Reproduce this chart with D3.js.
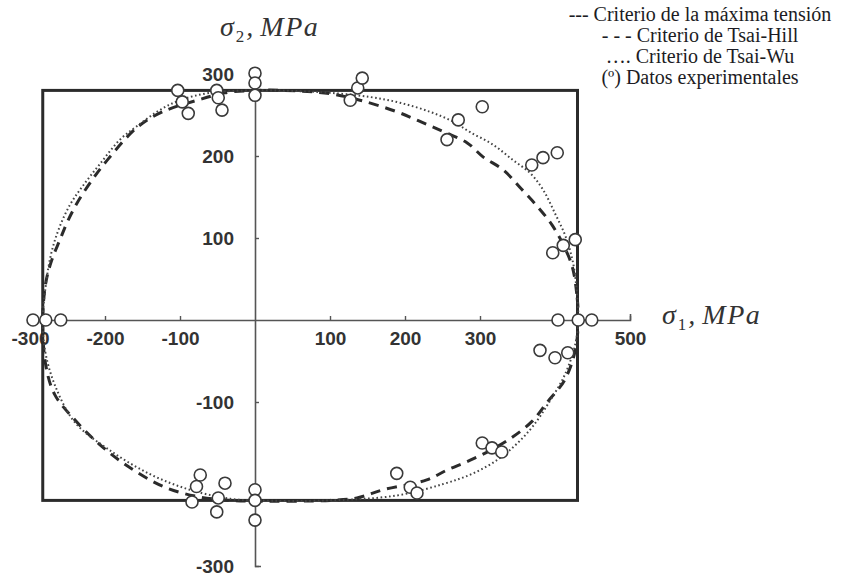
<!DOCTYPE html>
<html>
<head>
<meta charset="utf-8">
<script src="https://cdn.jsdelivr.net/npm/d3@7"></script>
<style>
  body { margin: 0; background: #fff; }
  svg { display: block; }
</style>
</head>
<body>
<svg id="chart" width="842" height="580"></svg>
<script>
// Biaxial failure envelopes of a lamina (σ1, σ2 in MPa) with test results.

// Axis ticks
const xTickValues = [-300, -200, -100, 100, 200, 300, 500];
const yTickValues = [300, 200, 100, -100, -300];

// Maximum stress criterion: rectangle limits
const maxStressSigma1 = [-283, 430];
const maxStressSigma2 = [-220, 280];

// Tsai-Hill envelope, [σ1, σ2]
const tsaiHill = [
  [431, 0], [429, 32], [423, 65], [412, 90], [396, 116], [377, 138], [355, 160],
  [331, 183], [304, 199], [283, 216], [253, 229], [223, 241], [189, 254], [140, 268],
  [100, 276], [40, 280], [0, 280], [-40, 277], [-77, 268], [-123, 254], [-157, 235],
  [-197, 195], [-217, 171], [-237, 143], [-250, 120], [-260, 98], [-271, 73],
  [-279, 45], [-283, 0], [-279, -55], [-267, -91], [-240, -122], [-207, -152],
  [-167, -180], [-120, -204], [-73, -216], [-33, -220], [0, -221], [100, -220],
  [136, -217], [171, -207], [229, -195], [256, -183], [287, -171], [318, -157],
  [343, -143], [369, -124], [389, -101], [413, -73], [427, -37]
];

// Tsai-Wu envelope, [σ1, σ2]
const tsaiWu = [
  [431, 0], [429, 35], [424, 70], [414, 102], [400, 130], [384, 159], [367, 179],
  [344, 195], [317, 214], [287, 229], [264, 242], [233, 254], [193, 265], [153, 272],
  [100, 277], [60, 279], [0, 280], [-60, 277], [-100, 268], [-127, 256], [-155, 238],
  [-180, 220], [-207, 190], [-230, 163], [-247, 140], [-262, 110], [-272, 80],
  [-279, 42], [-283, 0], [-280, -37], [-267, -79], [-240, -125], [-195, -158],
  [-140, -188], [-87, -207], [-33, -218], [0, -220], [100, -220], [189, -214],
  [251, -200], [291, -187], [324, -170], [349, -151], [371, -129], [393, -99],
  [413, -67], [427, -30]
];

// Experimental failure points
const expSigma1 = [
  -103, -97, -89, -51, -49, -44, 0, 0, 0, 127, 137, 143,
  303, 271, 256, 369, 384, 403, 427, 411, 397,
  404, 431, 449, 380, 400, 417, 303, 316, 329,
  189, 207, 216, -73, -78, -84, -49, -40, -51, 0, 0, 0,
  -296, -279, -259
];
const expSigma2 = [
  280, 266, 252, 280, 271, 256, 301, 289, 274, 268, 283, 295,
  260, 244, 220, 189, 198, 204, 98, 91, 82,
  0, 0, 0, -37, -46, -40, -150, -156, -161,
  -187, -204, -211, -189, -203, -222, -217, -199, -234, -207, -220, -244,
  0, 0, 0
];

const legendLines = [
  "--- Criterio de la máxima tensión",
  "- - - Criterio de Tsai-Hill",
  "…. Criterio de Tsai-Wu",
  "(º) Datos experimentales"
];

const svg = d3.select("#chart");

const x = d3.scaleLinear().domain([-300, 500]).range([30, 630]);
const y = d3.scaleLinear().domain([-300, 300]).range([566, 74]);

const axisColor = "#555";
const inkColor = "#2b2b2b";
const labelFont = "'Liberation Sans', Arial, sans-serif";
const serifFont = "'Liberation Serif', 'Times New Roman', serif";

// Axes crossing at the origin
const xAxis = d3.axisBottom(x)
  .tickValues(xTickValues)
  .tickSizeInner(-4)
  .tickSizeOuter(-6)
  .tickPadding(12)
  .tickFormat(d => String(d));

const yAxis = d3.axisLeft(y)
  .tickValues(yTickValues)
  .tickSizeInner(-4)
  .tickSizeOuter(-6)
  .tickPadding(21)
  .tickFormat(d => String(d));

function styleAxis(g) {
  g.select(".domain").attr("stroke", axisColor).attr("stroke-width", 1.6);
  g.selectAll(".tick line").attr("stroke", axisColor).attr("stroke-width", 1.4);
  g.selectAll(".tick text")
    .attr("fill", "#333")
    .style("font-family", labelFont)
    .style("font-weight", "bold")
    .style("font-size", "19px");
}

svg.append("g")
  .attr("transform", `translate(0,${y(0)})`)
  .call(xAxis)
  .call(styleAxis);

svg.append("g")
  .attr("transform", `translate(${x(0)},0)`)
  .call(yAxis)
  .call(styleAxis);

// Maximum stress rectangle
svg.append("rect")
  .attr("x", x(maxStressSigma1[0]))
  .attr("y", y(maxStressSigma2[1]))
  .attr("width", x(maxStressSigma1[1]) - x(maxStressSigma1[0]))
  .attr("height", y(maxStressSigma2[0]) - y(maxStressSigma2[1]))
  .attr("fill", "none")
  .attr("stroke", inkColor)
  .attr("stroke-width", 3);

const envelope = d3.line()
  .x(d => x(d[0]))
  .y(d => y(d[1]))
  .curve(d3.curveCatmullRomClosed.alpha(0.5));

// Tsai-Hill (dashed)
svg.append("path")
  .attr("d", envelope(tsaiHill))
  .attr("fill", "none")
  .attr("stroke", inkColor)
  .attr("stroke-width", 3)
  .attr("stroke-dasharray", "10,7");

// Tsai-Wu (dotted)
svg.append("path")
  .attr("d", envelope(tsaiWu))
  .attr("fill", "none")
  .attr("stroke", "#444")
  .attr("stroke-width", 2)
  .attr("stroke-dasharray", "1.6,2.6");

// Experimental points
svg.append("g")
  .selectAll("circle")
  .data(expSigma1.map((s1, i) => [s1, expSigma2[i]]))
  .join("circle")
  .attr("cx", d => x(d[0]))
  .attr("cy", d => y(d[1]))
  .attr("r", 6)
  .attr("fill", "#fff")
  .attr("stroke", "#3a3a3a")
  .attr("stroke-width", 1.6);

// Axis titles: σ with subscript, then the unit
function axisTitle(tx, ty, sub) {
  const t = svg.append("text")
    .attr("x", tx)
    .attr("y", ty)
    .attr("fill", "#333")
    .style("font-family", serifFont)
    .style("font-size", "28px");
  t.append("tspan").style("font-style", "italic").text("σ");
  t.append("tspan").attr("dx", 2).attr("dy", 6).style("font-size", "17px").text(sub);
  t.append("tspan").attr("dx", 2).attr("dy", -6).style("font-style", "italic").text(",");
  t.append("tspan").attr("dx", 7).style("font-style", "italic")
    .style("letter-spacing", "1.5px").text("MPa");
}
axisTitle(220, 36, "2");
axisTitle(662, 324, "1");

// Legend
svg.append("g")
  .selectAll("text")
  .data(legendLines)
  .join("text")
  .attr("x", 700)
  .attr("y", (d, i) => 21 + i * 21)
  .attr("text-anchor", "middle")
  .attr("fill", "#1c1c24")
  .style("font-family", serifFont)
  .style("font-size", "20px")
  .text(d => d);
</script>
</body>
</html>
